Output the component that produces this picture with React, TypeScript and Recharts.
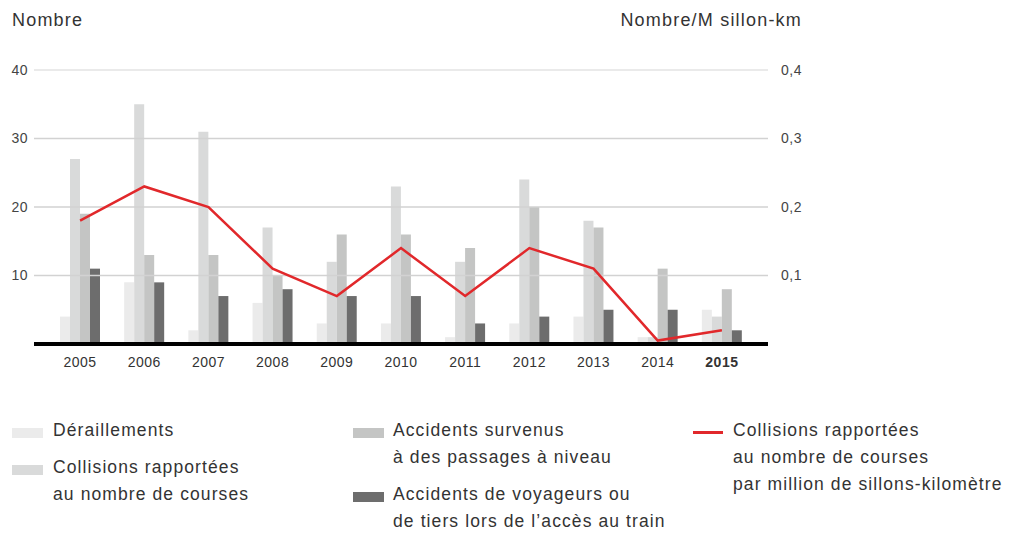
import React from 'react';
import { ComposedChart, Bar, Line, XAxis, YAxis, ReferenceLine } from 'recharts';

// values
const years = ['2005', '2006', '2007', '2008', '2009', '2010', '2011', '2012', '2013', '2014', '2015'];
const derailments = [4, 9, 2, 6, 3, 3, 1, 3, 4, 1, 5];
const collisions = [27, 35, 31, 17, 12, 23, 12, 24, 18, 1, 4];
const levelCrossing = [19, 13, 13, 10, 16, 16, 14, 20, 17, 11, 8];
const passengers = [11, 9, 7, 8, 7, 7, 3, 4, 5, 5, 2];
const collisionRate = [0.18, 0.23, 0.2, 0.11, 0.07, 0.14, 0.07, 0.14, 0.11, 0.005, 0.02];

const leftTicks = [10, 20, 30, 40];
const rightTicks = [0.1, 0.2, 0.3, 0.4];

const data = years.map((year, i) => ({
  year,
  derailments: derailments[i],
  collisions: collisions[i],
  levelCrossing: levelCrossing[i],
  passengers: passengers[i],
  rate: collisionRate[i],
}));

const FONT = '"Liberation Sans", Arial, sans-serif';
const TEXT = '#333';

const COLORS = {
  derailments: '#ebebeb',
  collisions: '#d9dada',
  levelCrossing: '#c4c5c4',
  passengers: '#6d6d6d',
  rate: '#e1282b',
};

const YearTick = ({ x, y, payload }: any) => (
  <text
    x={x}
    y={y}
    dy="0.71em"
    textAnchor="middle"
    fontSize={14}
    fontFamily={FONT}
    letterSpacing={0.5}
    fill={TEXT}
    fontWeight={payload.value === '2015' ? 700 : 400}
  >
    {payload.value}
  </text>
);

const legendText: React.CSSProperties = {
  position: 'absolute',
  fontFamily: FONT,
  fontSize: 17.5,
  letterSpacing: 1.1,
  lineHeight: '27px',
  color: TEXT,
  whiteSpace: 'nowrap',
};

const Swatch = ({ left, top, color }: { left: number; top: number; color: string }) => (
  <div style={{ position: 'absolute', left, top, width: 31, height: 10, background: color }} />
);

export default function App() {
  return (
    <div style={{ position: 'absolute', left: 0, top: 0, width: 1019, height: 534, background: '#fff', overflow: 'hidden' }}>
      <div style={{ position: 'absolute', left: 12, top: 11, fontFamily: FONT, fontSize: 18, letterSpacing: 1.2, lineHeight: '18px', color: TEXT }}>
        Nombre
      </div>
      <div style={{ position: 'absolute', right: 217, top: 11, fontFamily: FONT, fontSize: 18, letterSpacing: 1.2, lineHeight: '18px', color: TEXT }}>
        Nombre/M sillon-km
      </div>

      <div style={{ position: 'absolute', left: 0, top: 0 }}>
        <ComposedChart
          width={1019}
          height={400}
          data={data}
          margin={{ top: 70, right: 0, bottom: 26, left: 0 }}
          barGap={0}
        >
          <XAxis
            dataKey="year"
            padding={{ left: 14, right: 14 }}
            axisLine={{ stroke: '#000', strokeWidth: 4 }}
            tickLine={false}
            tickMargin={7}
            height={30}
            tick={<YearTick />}
            interval={0}
          />
          <YAxis
            yAxisId="left"
            width={34}
            domain={[0, 40]}
            ticks={leftTicks}
            axisLine={false}
            tickLine={false}
            tickMargin={0}
            tick={{ fontSize: 14, fill: '#444', fontFamily: FONT, letterSpacing: 0.5 }}
          />
          <YAxis
            yAxisId="right"
            orientation="right"
            width={251}
            domain={[0, 0.4]}
            ticks={rightTicks}
            axisLine={false}
            tickLine={false}
            tickMargin={7}
            tickFormatter={(v: number) => v.toFixed(1).replace('.', ',')}
            tick={{ fontSize: 14, fill: '#444', fontFamily: FONT, letterSpacing: 0.5 }}
          />
          {leftTicks.map((t) => (
            <ReferenceLine
              key={t}
              yAxisId="left"
              y={t}
              stroke={t === 40 ? '#e3e3e3' : '#d2d2d2'}
              strokeWidth={1.5}
            />
          ))}
          <Bar yAxisId="left" dataKey="derailments" fill={COLORS.derailments} barSize={10} isAnimationActive={false} />
          <Bar yAxisId="left" dataKey="collisions" fill={COLORS.collisions} barSize={10} isAnimationActive={false} />
          <Bar yAxisId="left" dataKey="levelCrossing" fill={COLORS.levelCrossing} barSize={10} isAnimationActive={false} />
          <Bar yAxisId="left" dataKey="passengers" fill={COLORS.passengers} barSize={10} isAnimationActive={false} />
          <Line
            yAxisId="right"
            type="linear"
            dataKey="rate"
            stroke={COLORS.rate}
            strokeWidth={2.5}
            dot={false}
            activeDot={false}
            isAnimationActive={false}
          />
        </ComposedChart>
      </div>

      {/* legend, column 1 */}
      <Swatch left={12} top={428} color={COLORS.derailments} />
      <div style={{ ...legendText, left: 53, top: 417 }}>Déraillements</div>
      <Swatch left={12} top={465} color={COLORS.collisions} />
      <div style={{ ...legendText, left: 53, top: 454 }}>
        Collisions rapportées
        <br />
        au nombre de courses
      </div>

      {/* column 2 */}
      <Swatch left={353} top={428} color={COLORS.levelCrossing} />
      <div style={{ ...legendText, left: 393, top: 417 }}>
        Accidents survenus
        <br />à des passages à niveau
      </div>
      <Swatch left={353} top={492} color={COLORS.passengers} />
      <div style={{ ...legendText, left: 393, top: 481 }}>
        Accidents de voyageurs ou
        <br />
        de tiers lors de l’accès au train
      </div>

      {/* column 3 */}
      <div style={{ position: 'absolute', left: 693, top: 431, width: 30, height: 3, background: COLORS.rate }} />
      <div style={{ ...legendText, left: 733, top: 417 }}>
        Collisions rapportées
        <br />
        au nombre de courses
        <br />
        par million de sillons-kilomètre
      </div>
    </div>
  );
}
